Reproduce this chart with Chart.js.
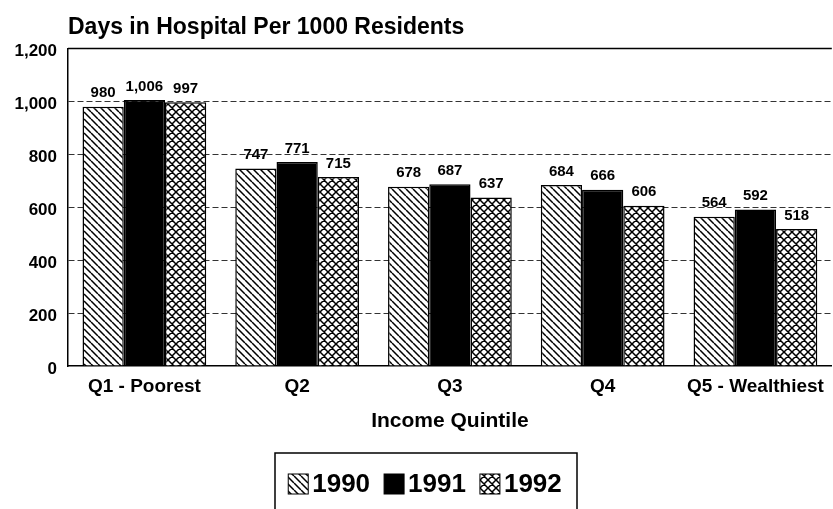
<!DOCTYPE html>
<html>
<head>
<meta charset="utf-8">
<script src="https://cdn.jsdelivr.net/npm/chart.js@4"></script>
<style>
  html, body { margin: 0; padding: 0; background: #fff; }
  #wrap { width: 833px; height: 509px; }
</style>
</head>
<body>
<div id="wrap"><canvas id="myBarChart"></canvas></div>
<script>
// data
const quintiles = ["Q1 - Poorest", "Q2", "Q3", "Q4", "Q5 - Wealthiest"];
const years = ["1990", "1991", "1992"];
const days1990 = [980, 747, 678, 684, 564];
const days1991 = [1006, 771, 687, 666, 592];
const days1992 = [997, 715, 637, 606, 518];
const yTicks = [0, 200, 400, 600, 800, 1000, 1200];

const FONT = "'Liberation Sans', Arial, Helvetica, sans-serif";
Chart.defaults.font.family = FONT;
Chart.defaults.color = "#000";

let canvas = document.getElementById("myBarChart");
let ctx = canvas.getContext("2d");

// hatch fills like the old print chart
function makeHatch(size, cross) {
  let c = document.createElement("canvas");
  c.width = size;
  c.height = size;
  let g = c.getContext("2d");
  g.fillStyle = "#fff";
  g.fillRect(0, 0, size, size);
  g.strokeStyle = "#000";
  g.lineWidth = 1.5;
  g.beginPath();
  for (let k = -1; k <= 1; k++) {
    g.moveTo(k * size, 0);
    g.lineTo(k * size + size, size);
    if (cross) {
      g.moveTo(k * size + size, 0);
      g.lineTo(k * size, size);
    }
  }
  g.stroke();
  return ctx.createPattern(c, "repeat");
}

const fills = [makeHatch(7, false), "#000", makeHatch(8, true)];

// value labels above the bars
const barValueLabels = {
  id: "barValueLabels",
  afterDatasetsDraw(chart) {
    let c = chart.ctx;
    c.save();
    c.font = "bold 15px " + FONT;
    c.fillStyle = "#000";
    c.textAlign = "center";
    c.textBaseline = "bottom";
    chart.data.datasets.forEach((ds, i) => {
      chart.getDatasetMeta(i).data.forEach((bar, j) => {
        c.fillText(ds.data[j].toLocaleString("en-US"), bar.x, bar.y - 6);
      });
    });
    c.restore();
  }
};

// solid top frame line
const topLine = {
  id: "topLine",
  beforeDatasetsDraw(chart) {
    let a = chart.chartArea;
    let c = chart.ctx;
    c.save();
    c.strokeStyle = "#000";
    c.lineWidth = 1.5;
    c.beginPath();
    c.moveTo(a.left, a.top);
    c.lineTo(a.right, a.top);
    c.stroke();
    c.restore();
  }
};

// boxed legend at the bottom
const boxedLegend = {
  id: "boxedLegend",
  afterDraw(chart) {
    let c = chart.ctx;
    c.save();
    c.font = "bold 26px " + FONT;
    let sw = 20, gapText = 4, gapItem = 14;
    let items = chart.data.datasets.map(ds => ({
      label: ds.label,
      fill: ds.backgroundColor,
      w: sw + gapText + c.measureText(ds.label).width
    }));
    let total = items.reduce((a, it) => a + it.w, 0) + gapItem * (items.length - 1);
    let cx = 425, cy = 484;
    let x = cx - total / 2;
    c.strokeStyle = "#000";
    c.lineWidth = 1.5;
    c.strokeRect(275, 453, 302, 80);
    items.forEach(it => {
      c.fillStyle = it.fill;
      c.fillRect(x, cy - sw / 2, sw, sw);
      c.lineWidth = 1;
      c.strokeRect(x, cy - sw / 2, sw, sw);
      c.fillStyle = "#000";
      c.textAlign = "left";
      c.textBaseline = "middle";
      c.fillText(it.label, x + sw + gapText, cy + 1);
      x += it.w + gapItem;
    });
    c.restore();
  }
};

let myBarChart = new Chart(ctx, {
  type: "bar",
  data: {
    labels: quintiles,
    datasets: [
      { label: years[0], data: days1990, backgroundColor: fills[0] },
      { label: years[1], data: days1991, backgroundColor: fills[1] },
      { label: years[2], data: days1992, backgroundColor: fills[2] }
    ]
  },
  options: {
    responsive: true,
    maintainAspectRatio: false,
    animation: false,
    layout: { padding: { top: 0, right: 0, bottom: 60, left: 0 } },
    datasets: {
      bar: {
        categoryPercentage: 0.81,
        barPercentage: 1,
        borderColor: "#000",
        borderWidth: 1.5
      }
    },
    scales: {
      x: {
        afterFit: s => { s.height = 83; },
        grid: { display: true, drawOnChartArea: false, drawTicks: false },
        border: { display: true, color: "#000", width: 1.5 },
        ticks: { padding: 9, color: "#000", font: { size: 19, weight: "bold" } },
        title: {
          display: true,
          text: "Income Quintile",
          color: "#000",
          font: { size: 21, weight: "bold" },
          padding: { top: 0, bottom: 15 }
        }
      },
      y: {
        min: 0,
        max: 1200,
        afterFit: s => { s.width = 68; },
        afterBuildTicks: s => { s.ticks = yTicks.map(v => ({ value: v })); },
        grid: {
          drawTicks: false,
          lineWidth: 1,
          color: c => (c.tick && (c.tick.value === 0 || c.tick.value === 1200)) ? "rgba(0,0,0,0)" : "#333"
        },
        border: { display: true, color: "#000", width: 1.5, dash: [6, 3] },
        ticks: {
          padding: 11,
          labelOffset: 3,
          color: "#000",
          font: { size: 17, weight: "bold" },
          callback: v => v.toLocaleString("en-US")
        }
      }
    },
    plugins: {
      legend: { display: false },
      tooltip: { enabled: false },
      title: {
        display: true,
        text: "Days in Hospital Per 1000 Residents",
        align: "start",
        fullSize: false,
        color: "#000",
        font: { size: 23, weight: "bold" },
        padding: { top: 14, bottom: 7 }
      }
    }
  },
  plugins: [topLine, barValueLabels, boxedLegend]
});
</script>
</body>
</html>
